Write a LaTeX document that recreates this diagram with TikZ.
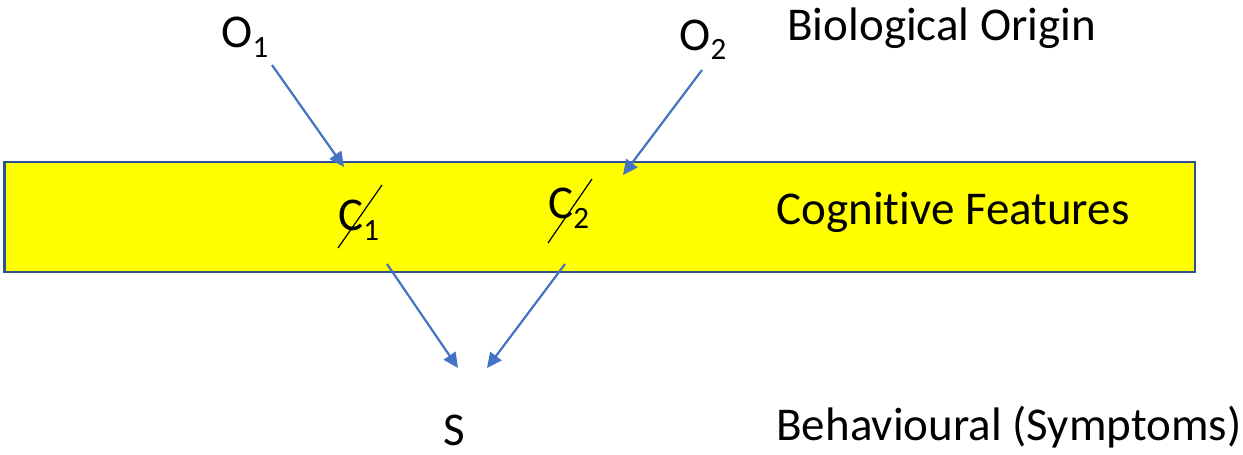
\documentclass[tikz,border=0pt]{standalone}
\usepackage{fontspec}
\setmainfont[Ligatures=NoCommon]{Carlito}
\usetikzlibrary{arrows.meta}
\definecolor{arrowblue}{HTML}{4472C4}
\definecolor{boxborder}{HTML}{2F528F}
\definecolor{boxfill}{HTML}{FFFF00}
\newcommand{\sub}[1]{\raisebox{-5pt}{\fontsize{15.5}{16}\selectfont #1}}
\tikzset{
  lbl/.style={inner sep=0pt, anchor=base west, font=\fontsize{23.5}{28}\selectfont},
  conn/.style={draw=arrowblue, line width=1.1pt, -{Triangle[length=7.5pt,width=7pt]}},
  strike/.style={draw=black, line width=0.6pt},
  band/.style={draw=boxborder, fill=boxfill, line width=1.3pt}
}
\begin{document}
\begin{tikzpicture}[x=0.5pt,y=-0.5pt]
\useasboundingbox (0,0) rectangle (1243,455);
\path[band] (4.5,162) rectangle (1195,272);
\node[lbl] (o1) at (221,47) {O\sub{1}};
\node[lbl] (o2) at (679,50) {O\sub{2}};
\node[lbl] (bio) at (787,40) {Biological Origin};
\node[lbl] (c1) at (338,230) {C\sub{1}};
\node[lbl] (c2) at (548,218) {C\sub{2}};
\node[lbl] (cog) at (776,224) {Cognitive Features};
\node[lbl] (s) at (443,445) {S};
\node[lbl] (beh) at (776,440) {Behavioural (Symptoms)};
\draw[strike] (338,248) -- (382,185);
\draw[strike] (548,243) -- (592,179);
\coordinate (o1out) at (272,65);
\coordinate (c1in) at (344,167);
\coordinate (o2out) at (702,70);
\coordinate (c2in) at (623,175);
\coordinate (c1out) at (387,264);
\coordinate (c2out) at (565,264);
\coordinate (sinl) at (458,368);
\coordinate (sinr) at (487,368);
\draw[conn] (o1out) -- (c1in);
\draw[conn] (o2out) -- (c2in);
\draw[conn] (c1out) -- (sinl);
\draw[conn] (c2out) -- (sinr);
\end{tikzpicture}
\end{document}
